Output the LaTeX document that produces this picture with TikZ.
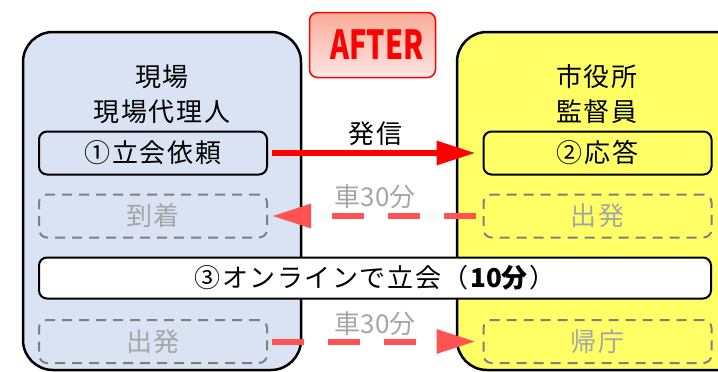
\documentclass[tikz,border=0pt]{standalone}
\usepackage{fontspec}
\usepackage{graphicx}
\usetikzlibrary{arrows.meta}
\newfontfamily\jp[LetterSpace=6]{Noto Sans CJK JP}
\newfontfamily\jpplain{Noto Sans CJK JP}
\definecolor{genba}{RGB}{218,227,243}
\definecolor{shiyaku}{RGB}{255,255,102}
\definecolor{carred}{RGB}{255,82,82}
\definecolor{ghosttext}{RGB}{166,166,166}
\definecolor{ghostline}{RGB}{128,128,128}
\definecolor{badgetop}{RGB}{249,172,152}
\definecolor{badgebot}{RGB}{253,230,226}
\tikzset{
    panel/.style =  {rectangle,
                    rounded corners=30pt,
                    draw=black,
                    line width=2.5pt,
                    minimum height=338pt},
    title/.style =  {align=center,
                    text=black,
                    inner sep=0pt,
                    font=\jp\fontsize{26}{35}\selectfont},
    task/.style =   {rectangle,
                    rounded corners=8pt,
                    draw=black,
                    text=black,
                    line width=2pt,
                    minimum width=228pt,
                    minimum height=43pt,
                    inner sep=0pt,
                    font=\jp\fontsize{26}{30}\selectfont},
    ghost/.style =  {task,
                    draw=ghostline,
                    text=ghosttext,
                    dash pattern=on 10pt off 7pt},
    wide/.style =   {task,
                    fill=white,
                    minimum width=672pt,
                    minimum height=41pt},
    badge/.style =  {rectangle,
                    rounded corners=8pt,
                    draw=red,
                    line width=1.5pt,
                    top color=badgetop,
                    bottom color=badgebot,
                    text=red,
                    inner sep=0pt,
                    minimum width=126pt,
                    minimum height=65pt,
                    font=\jpplain\bfseries\fontsize{40}{40}\selectfont},
    sent/.style =   {draw=red,
                    line width=6pt,
                    -{Triangle[length=39pt,width=23pt]},
                    shorten <=4pt,
                    shorten >=7pt},
    car/.style =    {sent,
                    draw=carred,
                    dash pattern=on 32pt off 24pt},
    tag/.style =    {inner sep=0pt,
                    font=\jp\fontsize{26}{30}\selectfont}
}
\begin{document}
\begin{tikzpicture}[x=1pt,y=-1pt]
            \useasboundingbox (0,0) rectangle (718,372);
            \clip (0,0) rectangle (718,372);
            \node[panel, fill=genba, minimum width=278pt]   (gen) at (162,201)   {};
            \node[panel, fill=shiyaku, minimum width=303pt] (shi) at (608.5,201) {};
            \node[badge]    (aft) at (372.5,45)    {\raisebox{-4pt}{\hspace*{9pt}\scalebox{0.72}[1]{AFTER}}};
            \node[title]    (genT) at (162,94)     {現場\\現場代理人};
            \node[title]    (shiT) at (597,94)     {市役所\\監督員};
            \node[task]     (req) at (153,153)     {①立会依頼};
            \node[task]     (ans) at (597.5,153)   {②応答};
            \node[ghost]    (arr) at (153,216)     {到着};
            \node[ghost]    (depC) at (597.5,216)  {出発};
            \node[wide]     (onl) at (375,278)     {③オンラインで立会（\textbf{{\jpplain 10}分}）};
            \node[ghost]    (depS) at (153,341.5)  {出発};
            \node[ghost]    (ret) at (597.5,341.5) {帰庁};
            \draw[sent] (req) -- (ans) node[tag, midway, above=4pt] {発信};
            \draw[car, shorten <=7pt, shorten >=4pt] (depC) -- (arr) node[tag, text=ghosttext, midway, above=4pt] {車{\jpplain 30}分};
            \draw[car] (depS) -- (ret) node[tag, text=ghosttext, midway, above=3pt] {車{\jpplain 30}分};
\end{tikzpicture}
\end{document}
